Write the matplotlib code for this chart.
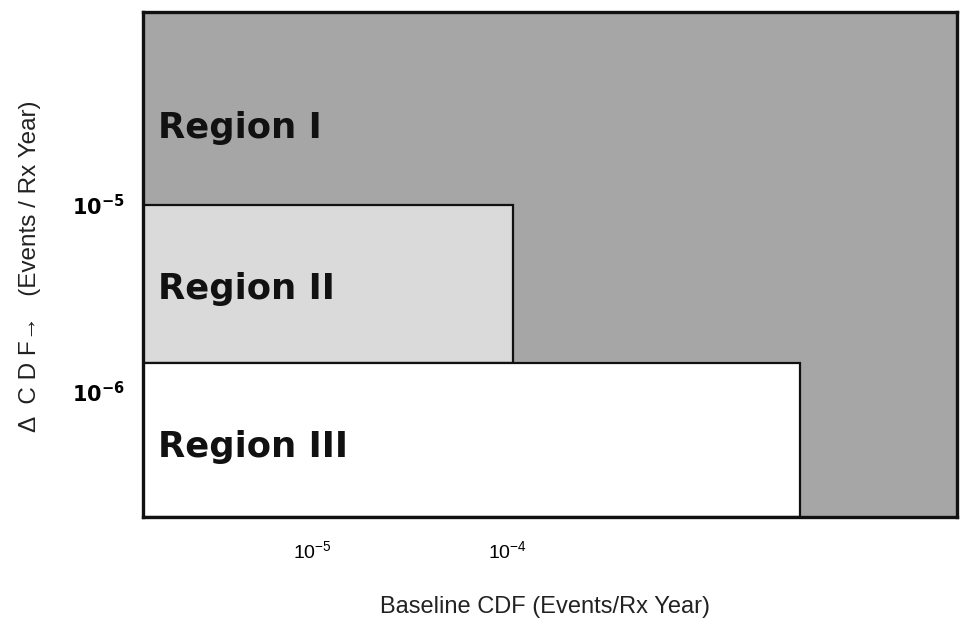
import matplotlib
matplotlib.use("Agg")
import matplotlib.pyplot as plt
from matplotlib.patches import Rectangle

# axis ranges (log scale)
x_lim = [1.374e-6, 1.954e-2]
y_lim = [2.148e-7, 1.076e-4]

# regions: upper bounds of the boxes drawn on the gray background
region_names = ["Region I", "Region II", "Region III"]
region_x_max = [x_lim[1], 1.06e-4, 3.1e-3]
region_y_min = [1e-5, 1.43e-6, y_lim[0]]
region_y_max = [y_lim[1], 1e-5, 1.43e-6]
region_label_y = [2.58e-5, 3.56e-6, 5.08e-7]
region_colors = ["#a6a6a6", "#dadada", "#ffffff"]

x_ticks = [1e-5, 1e-4]
x_tick_labels = [r"$\mathregular{10^{-5}}$", r"$\mathregular{10^{-4}}$"]
y_ticks = [1e-6, 1e-5]
y_tick_labels = [r"$\mathbf{10^{-6}}$", r"$\mathbf{10^{-5}}$"]

fam = ["Liberation Sans", "DejaVu Sans"]

fig = plt.figure(figsize=(9.61, 6.33), dpi=100)
ax = fig.add_axes([0.1488, 0.1832, 0.847, 0.798])
ax.set_xscale("log")
ax.set_yscale("log")
ax.set_xlim(x_lim)
ax.set_ylim(y_lim)
ax.set_facecolor(region_colors[0])

for i in range(1, 3):
    ax.add_patch(Rectangle((x_lim[0], region_y_min[i]),
                           region_x_max[i] - x_lim[0],
                           region_y_max[i] - region_y_min[i],
                           facecolor=region_colors[i], edgecolor="#111111",
                           linewidth=1.6, zorder=2))

for name, ly in zip(region_names, region_label_y):
    ax.text(0.018, ly, name, transform=ax.get_yaxis_transform(),
            fontsize=25.5, fontweight="heavy", color="#111111",
            va="center", ha="left", family="DejaVu Sans", zorder=3)

ax.minorticks_off()
ax.set_xticks(x_ticks)
ax.set_xticklabels(x_tick_labels, fontsize=14, family=fam)
ax.set_yticks(y_ticks)
ax.set_yticklabels(y_tick_labels, fontsize=15, family=fam)
ax.tick_params(length=0)
ax.tick_params(axis="x", pad=17)
ax.tick_params(axis="y", pad=13)

for s in ax.spines.values():
    s.set_linewidth(2.4)
    s.set_color("#111111")
    s.set_zorder(4)

fig.text(0.567, 0.041, "Baseline CDF (Events/Rx Year)", fontsize=17,
         family=fam, ha="center", va="center", color="#222222")
fig.text(0.031, 0.58, "\u0394  C D F\u2192   (Events / Rx Year)", fontsize=17.5,
         family=fam, ha="center", va="center", rotation=90, color="#222222")

fig.savefig("out.png", dpi=100)
